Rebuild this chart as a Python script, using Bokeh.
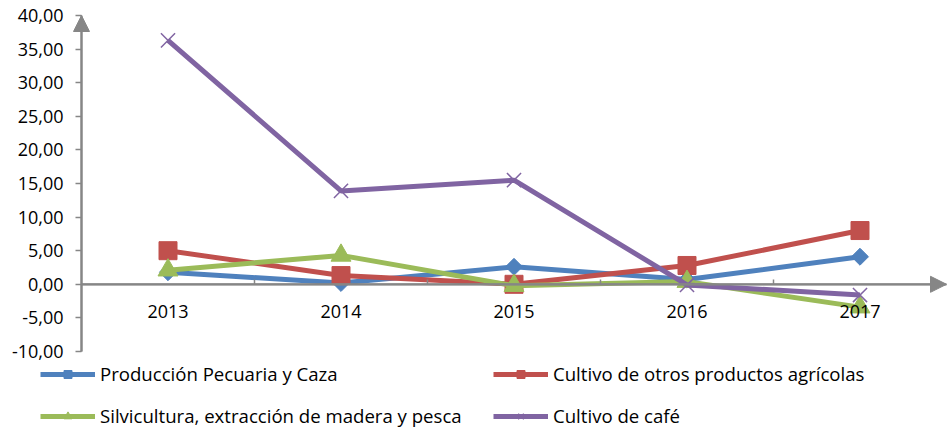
import math
from bokeh.plotting import figure
from bokeh.models import (FixedTicker, LinearAxis, Range1d, Arrow, NormalHead,
                          Legend, LegendItem)
from bokeh.embed import file_html
from bokeh.resources import INLINE

years = [2013, 2014, 2015, 2016, 2017]
pecuaria = [1.8, 0.2, 2.6, 0.7, 4.1]
otros = [5.0, 1.3, 0.0, 2.8, 8.0]
silvicultura = [2.1, 4.3, -0.2, 0.4, -3.4]
cafe = [36.3, 13.9, 15.5, -0.1, -1.6]

y_ticks = [-10, -5, 0, 5, 10, 15, 20, 25, 30, 35, 40]
y_labels = ["-10,00", "-5,00", "0,00", "5,00", "10,00", "15,00", "20,00",
            "25,00", "30,00", "35,00", "40,00"]
x_boundaries = [2013.5, 2014.5, 2015.5, 2016.5]

FONT = "Open Sans"
GRAY = "#868686"
W, H = 949, 429
# pixel layout of the plotting area (axis box) inside the canvas
AX_L, AX_R, AX_T, AX_B = 81, 946, 15, 351
X0, X1, Y0, Y1 = 2012.5, 2017.5, -10, 40
sx = (AX_R - AX_L) / (X1 - X0)
sy = (AX_B - AX_T) / (Y1 - Y0)

p = figure(width=W, height=H, output_backend="svg", toolbar_location=None,
           x_range=Range1d(X0 - AX_L / sx, X1 + (W - AX_R) / sx),
           y_range=Range1d(Y0 - (H - AX_B) / sy, Y1 + AX_T / sy),
           x_axis_location=None, y_axis_location=None,
           min_border=0)
p.outline_line_color = None
p.xgrid.visible = False
p.ygrid.visible = False

yax = LinearAxis(ticker=FixedTicker(ticks=y_ticks, minor_ticks=[]),
                 major_label_overrides={t: l for t, l in zip(y_ticks, y_labels)},
                 fixed_location=X0, bounds=(Y0, Y1))
yax.axis_line_color = GRAY
yax.axis_line_width = 2
yax.major_tick_line_color = GRAY
yax.major_tick_line_width = 1.5
yax.major_tick_out = 6
yax.major_tick_in = 0
yax.minor_tick_line_color = None
yax.major_label_text_font = FONT
yax.major_label_text_font_size = "18px"
yax.major_label_text_color = "#000000"
yax.major_label_standoff = 12
p.add_layout(yax, "left")

xax = LinearAxis(ticker=FixedTicker(ticks=years, minor_ticks=x_boundaries),
                 fixed_location=0, bounds=(X0, X1))
xax.axis_line_color = GRAY
xax.axis_line_width = 2
xax.major_tick_line_color = None
xax.minor_tick_line_color = GRAY
xax.minor_tick_line_width = 1.5
xax.minor_tick_in = 5
xax.minor_tick_out = 0
xax.major_label_text_font = FONT
xax.major_label_text_font_size = "18px"
xax.major_label_text_color = "#000000"
xax.major_label_standoff = 15
p.add_layout(xax, "below")

p.add_layout(Arrow(x_start=X0, y_start=0, x_end=X1, y_end=0,
                   line_color=GRAY, line_width=2,
                   end=NormalHead(size=16, fill_color=GRAY, line_color=GRAY)))
p.add_layout(Arrow(x_start=X0, y_start=Y0, x_end=X0, y_end=Y1,
                   line_color=GRAY, line_width=2,
                   end=NormalHead(size=16, fill_color=GRAY, line_color=GRAY)))

series = [
    ("Producción Pecuaria y Caza", pecuaria, "#4F81BD", "square", 12, math.pi / 4),
    ("Cultivo de otros productos agrícolas", otros, "#C0504D", "square", 18, 0),
    ("Silvicultura, extracción de madera y pesca", silvicultura, "#9BBB59", "triangle", 20, 0),
    ("Cultivo de café", cafe, "#8064A2", "x", 20, 0),
]

items = {}
for name, vals, color, marker, size, angle in series:
    l = p.line(years, vals, line_color=color, line_width=5)
    if marker == "x":
        s = p.scatter(years, vals, marker="x", size=size, line_color=color,
                      line_width=1.5)
    else:
        s = p.scatter(years, vals, marker=marker, size=size, angle=angle,
                      fill_color=color, line_color=color)
    items[name] = LegendItem(label=name, renderers=[l, s])


def make_legend(names, x, y):
    lg = Legend(items=[items[n] for n in names], location=(x, y),
                orientation="vertical")
    lg.label_text_font = FONT
    lg.label_text_font_size = "18.6px"
    lg.label_text_color = "#000000"
    lg.glyph_width = 55
    lg.glyph_height = 20
    lg.label_height = 20
    lg.label_standoff = 5
    lg.spacing = 17
    lg.padding = 0
    lg.margin = 0
    lg.border_line_color = None
    lg.background_fill_alpha = 0
    return lg


p.add_layout(make_legend(["Producción Pecuaria y Caza",
                          "Silvicultura, extracción de madera y pesca"], 40, 1))
p.add_layout(make_legend(["Cultivo de otros productos agrícolas",
                          "Cultivo de café"], 493, 1))

open("out.html", "w").write(file_html(p, INLINE))
